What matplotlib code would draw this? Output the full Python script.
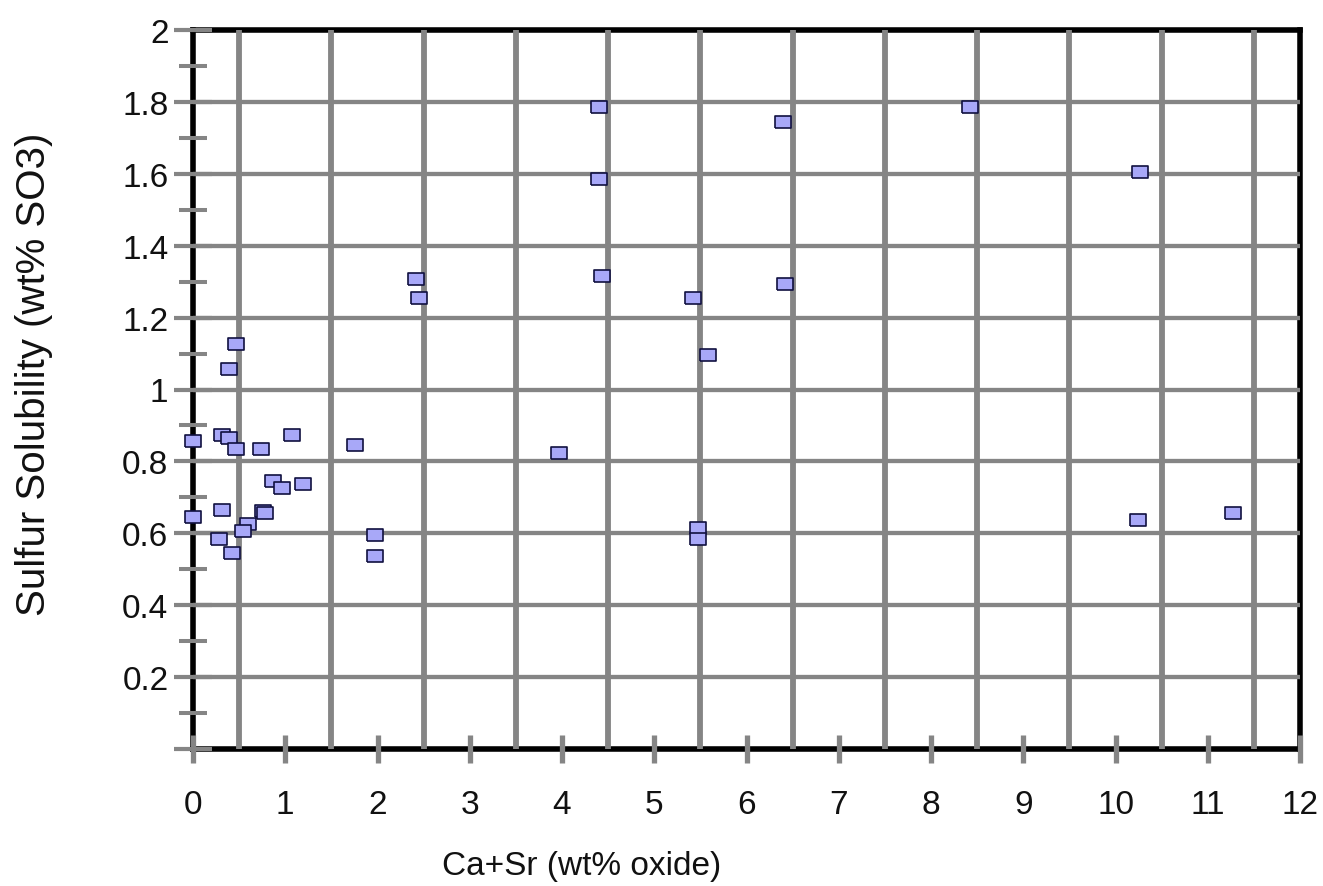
import matplotlib
matplotlib.use("Agg")
import matplotlib.pyplot as plt
import matplotlib.ticker as ticker

# ── Data ─────────────────────────────────────────────────────────────────────
ca_sr = [0.0, 0.0, 0.31, 0.39, 0.47, 0.74, 1.07, 1.76,
         0.87, 0.97, 1.19, 0.31, 0.76, 0.78, 0.60, 0.54,
         0.28, 0.42, 1.97, 1.97, 0.39, 0.47,
         2.42, 2.45, 4.40, 4.40, 4.43, 6.40, 6.42, 5.42,
         5.58, 3.97, 5.47, 5.47, 8.42, 10.27, 10.24, 11.27]
so3 = [0.857, 0.646, 0.874, 0.865, 0.834, 0.834, 0.874, 0.846,
       0.745, 0.725, 0.737, 0.664, 0.663, 0.657, 0.625, 0.607,
       0.584, 0.545, 0.596, 0.536, 1.057, 1.127,
       1.307, 1.255, 1.786, 1.586, 1.316, 1.744, 1.294, 1.255,
       1.096, 0.824, 0.615, 0.584, 1.786, 1.606, 0.636, 0.656]

XTICKS = list(range(0, 13))
YTICKS = [0, 0.2, 0.4, 0.6, 0.8, 1.0, 1.2, 1.4, 1.6, 1.8, 2.0]
YTICK_LABELS = ['', '0.2', '0.4', '0.6', '0.8', '1', '1.2', '1.4', '1.6', '1.8', '2']
YMINOR = [0.1, 0.3, 0.5, 0.7, 0.9, 1.1, 1.3, 1.5, 1.7, 1.9]

GRID = '#858585'
TXT = '#111111'

plt.rcParams['font.family'] = ['Liberation Sans', 'DejaVu Sans']

fig = plt.figure(figsize=(13.23, 8.87), dpi=100)
ax = fig.add_axes([193 / 1323, 1 - 750 / 887, (1300 - 193) / 1323, (750 - 31) / 887])

# rectangular marker, wider than tall
rect = [(-1.5, -1), (1.5, -1), (1.5, 1), (-1.5, 1), (-1.5, -1)]
ax.plot(ca_sr, so3, linestyle='none', marker=rect, markersize=12,
        markerfacecolor='#a8a8f8', markeredgecolor='#101040',
        markeredgewidth=1.2, zorder=4, clip_on=False)

ax.set_xlim(0, 12)
ax.set_ylim(0, 2)
ax.set_axisbelow(False)

for s in ax.spines.values():
    s.set_linewidth(4)
    s.set_color('black')

# x: integer ticks, grid at half-integers
ax.xaxis.set_major_locator(ticker.FixedLocator(XTICKS))
ax.xaxis.set_minor_locator(ticker.MultipleLocator(0.5))
ax.tick_params(axis='x', which='major', direction='inout', length=19.5,
               width=3.8, color=GRID, pad=19, labelsize=24, labelcolor=TXT)
ax.tick_params(axis='x', which='minor', length=0)
ax.grid(True, axis='x', which='minor', color=GRID, linewidth=4.2)

# y: labelled ticks every 0.2, short ticks between
ax.yaxis.set_major_locator(ticker.FixedLocator(YTICKS))
ax.set_yticklabels(YTICK_LABELS)
ax.yaxis.set_minor_locator(ticker.FixedLocator(YMINOR))
ax.tick_params(axis='y', which='major', direction='inout', length=27.4,
               width=3.0, color=GRID, pad=4, labelsize=24, labelcolor=TXT)
ax.tick_params(axis='y', which='minor', direction='inout', length=19.5,
               width=2.9, color=GRID)
ax.grid(True, axis='y', which='major', color=GRID, linewidth=3.1)

# no grid on top of the frame at 0 and 2
yt = ax.yaxis.get_major_ticks()
yt[0].gridline.set_visible(False)
yt[-1].gridline.set_visible(False)

fig.text(582 / 1323, 1 - 867 / 887, 'Ca+Sr (wt% oxide)', fontsize=24,
         ha='center', va='center', color=TXT)
fig.text(34 / 1323, 1 - 374 / 887, 'Sulfur Solubility (wt% SO3)', fontsize=29,
         ha='center', va='center', rotation=90, color=TXT)

fig.savefig('out.png', dpi=100)
